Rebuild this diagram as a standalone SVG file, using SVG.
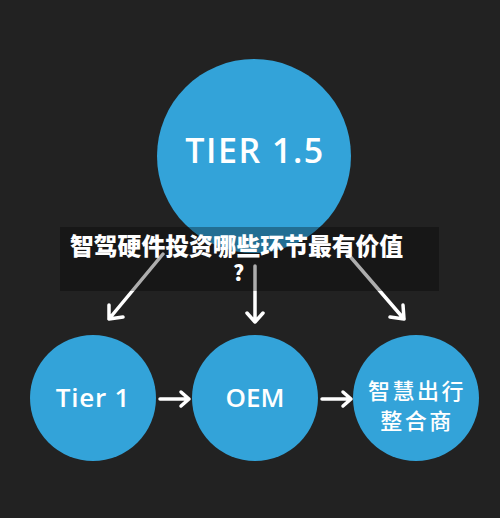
<svg xmlns="http://www.w3.org/2000/svg" width="500" height="518" viewBox="0 0 500 518">
<defs>
<style>
.node{fill:#33a3d9}
.lbl{fill:#ffffff;font-family:"Open Sans","Noto Sans",sans-serif;font-weight:600;text-anchor:middle}
.cjk{fill:#ffffff;font-family:"Noto Sans CJK SC",sans-serif;font-weight:500;text-anchor:middle;letter-spacing:2.5px}
.edge{stroke:#ffffff;stroke-width:3.5;fill:none;stroke-linecap:round;stroke-linejoin:round}
.title{fill:#ffffff;font-family:"Noto Sans CJK SC",sans-serif;font-weight:900}
</style>
</defs>
<rect x="0" y="0" width="500" height="518" fill="#222222"/>
<g id="tier15">
<circle class="node" cx="254" cy="156" r="97"/>
<text class="lbl" x="255" y="163" font-size="34" letter-spacing="1.5">TIER 1.5</text>
</g>
<g id="tier1">
<circle class="node" cx="93" cy="398" r="63"/>
<text class="lbl" x="93" y="407" font-size="26" letter-spacing="0.8">Tier 1</text>
</g>
<g id="oem">
<circle class="node" cx="255" cy="398" r="63"/>
<text class="lbl" x="255" y="407" font-size="26">OEM</text>
</g>
<g id="mobility">
<circle class="node" cx="416" cy="398" r="63"/>
<text class="cjk" x="417" y="399" font-size="22">智慧出行</text>
<text class="cjk" x="417" y="429" font-size="22">整合商</text>
</g>
<g id="connectors">
<path class="edge" d="M163 254 L109 319 M109 305 L109 319 L123 317"/>
<path class="edge" d="M255 266 L255 322 M247 313 L255 322 L263 313"/>
<path class="edge" d="M348 254 L404 319 M390 317 L404 319 L403 305"/>
<path class="edge" d="M160 399 L189 399 M181 392 L189 399 L181 406"/>
<path class="edge" d="M322 399 L351 399 M343 392 L351 399 L343 406"/>
</g>
<g id="caption">
<rect x="60" y="227" width="379" height="64" fill="#000000" fill-opacity="0.32"/>
<text class="title" x="70" y="255" font-size="23.8">智驾硬件投资哪些环节最有价值</text>
<text class="title" x="233" y="281" font-size="21">?</text>
</g>
</svg>
